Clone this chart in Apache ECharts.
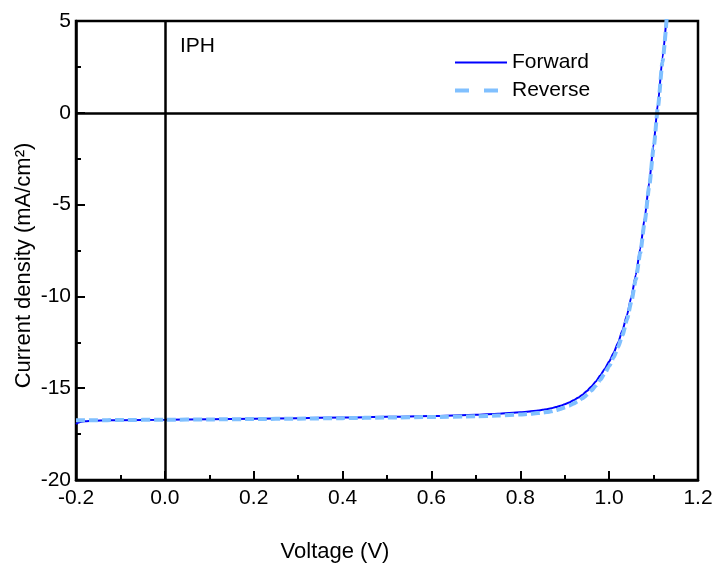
<!DOCTYPE html>
<html>
<head>
<meta charset="utf-8">
<script src="https://cdn.jsdelivr.net/npm/echarts@6/dist/echarts.min.js"></script>
<style>
html,body{margin:0;padding:0;background:#fff;}
#chart{width:720px;height:568px;}
</style>
</head>
<body>
<div id="chart"></div>
<script>
var voltage = [-0.2, -0.195, -0.19, -0.18, -0.16, -0.13, -0.1,
  0, 0.1, 0.2, 0.3, 0.4, 0.5, 0.6,
  0.7, 0.75, 0.8, 0.82,
  0.84, 0.85, 0.86, 0.87, 0.88, 0.89, 0.9, 0.91, 0.92, 0.93,
  0.94, 0.95, 0.96, 0.97, 0.98, 0.99, 1.0, 1.01, 1.02, 1.03,
  1.04, 1.05, 1.06, 1.07, 1.08, 1.09, 1.1, 1.11, 1.12, 1.13];
var forwardJ = [-16.95, -16.88, -16.84, -16.8, -16.77, -16.75, -16.74,
  -16.72, -16.69, -16.66, -16.63, -16.6, -16.56, -16.52,
  -16.45, -16.39, -16.31, -16.27,
  -16.215, -16.18, -16.14, -16.09, -16.03, -15.96, -15.88, -15.78, -15.66, -15.52,
  -15.35, -15.15, -14.91, -14.63, -14.31, -13.95, -13.55, -13.08, -12.52, -11.85,
  -11.03, -10.03, -8.83, -7.4, -5.73, -3.83, -1.73, 0.55, 2.97, 5.5];
var reverseJ = [-16.75, -16.75, -16.75, -16.75, -16.74, -16.74, -16.73,
  -16.72, -16.7, -16.68, -16.66, -16.63, -16.6, -16.57,
  -16.53, -16.49, -16.43, -16.4,
  -16.355, -16.33, -16.3, -16.26, -16.2, -16.13, -16.05, -15.95, -15.84, -15.71,
  -15.55, -15.36, -15.13, -14.86, -14.55, -14.19, -13.8, -13.33, -12.77, -12.1,
  -11.28, -10.28, -9.07, -7.63, -5.95, -4.04, -1.93, 0.35, 2.77, 5.3];
var seriesNames = ['Forward', 'Reverse'];
var xTicks = {min: -0.2, max: 1.2, interval: 0.2};
var yTicks = {min: -20, max: 5, interval: 5};

function pairs(xs, ys) { return xs.map(function (x, i) { return [x, ys[i]]; }); }

var FONT = 'Liberation Sans, Arial, sans-serif';
var chart = echarts.init(document.getElementById('chart'), null, {renderer: 'canvas'});
var axisCommon = {
  axisLine: {show: true, onZero: false, lineStyle: {color: '#000', width: 2.5}},
  axisTick: {show: true, inside: true, length: 9, lineStyle: {color: '#000', width: 2}},
  minorTick: {show: true, splitNumber: 2, length: 5, lineStyle: {color: '#000', width: 2}},
  splitLine: {show: false},
  axisLabel: {color: '#000', fontSize: 21, fontFamily: FONT}
};
chart.setOption({
  animation: false,
  backgroundColor: '#fff',
  grid: {left: 76, right: 22, top: 21, bottom: 88, show: true, borderColor: '#000', borderWidth: 2.5, backgroundColor: 'transparent'},
  legend: {
    orient: 'vertical', left: 453, top: 52, padding: 0, itemWidth: 52, itemHeight: 14, itemGap: 7,
    itemStyle: {opacity: 0},
    textStyle: {color: '#000', fontSize: 21, fontFamily: FONT},
    data: [
      {name: seriesNames[0]},
      {name: seriesNames[1], lineStyle: {type: [14, 15], width: 4}}
    ]
  },
  xAxis: Object.assign({}, axisCommon, {
    type: 'value', min: xTicks.min, max: xTicks.max, interval: xTicks.interval,
    name: 'Voltage (V)', nameLocation: 'middle', nameGap: 61, nameMoveOverlap: false,
    nameTextStyle: {color: '#000', fontSize: 22, fontFamily: FONT, padding: [0, 104, 0, 0]},
    axisLabel: Object.assign({}, axisCommon.axisLabel, {margin: 8, formatter: function (v) { return v.toFixed(1); }})
  }),
  yAxis: Object.assign({}, axisCommon, {
    type: 'value', min: yTicks.min, max: yTicks.max, interval: yTicks.interval,
    name: 'Current density (mA/cm²)', nameLocation: 'middle', nameGap: 41, nameMoveOverlap: false,
    nameTextStyle: {color: '#000', fontSize: 22, fontFamily: FONT, padding: [0, 30, 0, 0]},
    axisLabel: Object.assign({}, axisCommon.axisLabel, {margin: 5})
  }),
  graphic: [{
    type: 'text', left: 180, top: 36,
    style: {text: 'IPH', fill: '#000', fontSize: 21, fontFamily: FONT}
  }],
  series: [
    {
      name: seriesNames[0], type: 'line', data: pairs(voltage, forwardJ),
      symbol: 'none', smooth: 0.2, smoothMonotone: 'x', z: 3,
      lineStyle: {color: '#0000ff', width: 2},
      itemStyle: {color: '#0000ff'},
      markLine: {
        silent: true, symbol: 'none', label: {show: false},
        lineStyle: {color: '#000', width: 2.5, type: 'solid'},
        data: [{xAxis: 0}, {yAxis: 0}]
      }
    },
    {
      name: seriesNames[1], type: 'line', data: pairs(voltage, reverseJ),
      symbol: 'none', smooth: 0.2, smoothMonotone: 'x', z: 4,
      lineStyle: {color: '#80c0ff', width: 4, type: [9, 4]},
      itemStyle: {color: '#80c0ff'}
    }
  ]
});
</script>
</body>
</html>
